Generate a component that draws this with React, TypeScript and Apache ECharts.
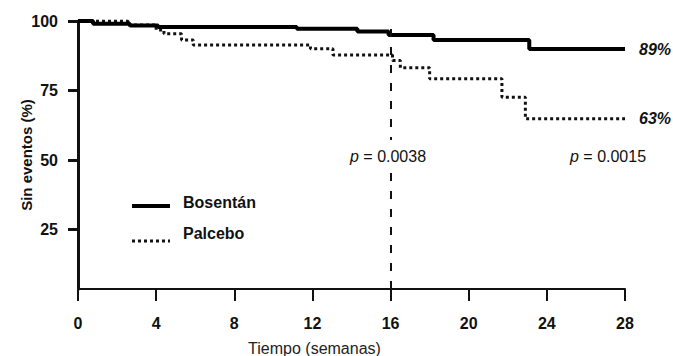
import React, { useEffect, useRef } from "react";
import * as echarts from "echarts";

const FONT = "'Liberation Sans', Arial, sans-serif";

// Kaplan-Meier steps (weeks, % event-free)
const bosentanWeeks = [0, 0.77, 2.66, 4.1, 11.2, 14.3, 15.9, 18.2, 23.1, 28];
const bosentanValues = [100, 99.0, 98.4, 97.8, 97.2, 96.2, 95.0, 93.2, 89.9, 89.9];
const placeboWeeks = [0, 2.56, 4.0, 4.4, 5.3, 5.9, 11.9, 13.05, 16.1, 16.5, 18.0, 21.7, 22.9, 28];
const placeboValues = [100, 98.6, 96.8, 95.4, 93.2, 91.4, 90.0, 87.8, 85.8, 83.2, 79.2, 72.6, 64.8, 64.8];
const seriesNames = ["Bosentán", "Palcebo"];
const endLabels = ["89%", "63%"];
const yTicks = [25, 50, 75, 100];
const pLabels = ["0.0038", "0.0015"];
const markWeek = 16;

export default function App() {
  const ref = useRef<HTMLDivElement>(null);
  useEffect(() => {
    if (!ref.current) return;
    const chart = echarts.init(ref.current, undefined, { renderer: "svg" });
    const zip = (xs: number[], ys: number[]) => xs.map((x, i) => [x, ys[i]]);
    const endLabel = (txt: string) => ({
      show: true,
      formatter: txt,
      distance: 14,
      fontFamily: FONT,
      fontStyle: "italic",
      fontWeight: "bold",
      fontSize: 16,
      color: "#111",
    });
    const pText = (x: number, val: string) => ({
      type: "text", x, y: 156, z: 100,
      style: {
        text: "{i|p} = " + val,
        font: `16px ${FONT}`, fill: "#111", verticalAlign: "middle",
        backgroundColor: "#fff", padding: [8, 2, 8, 2],
        rich: { i: { fontStyle: "italic", fontFamily: FONT, fontSize: 16 } },
      },
    });
    chart.setOption({
      animation: false,
      textStyle: { fontFamily: FONT },
      grid: { left: 78, right: 48, top: 21, bottom: 67, outerBoundsMode: "none", containLabel: false },
      xAxis: {
        type: "value",
        min: 0,
        max: 28,
        interval: 4,
        name: "Tiempo (semanas)",
        nameLocation: "middle",
        nameGap: 51,
        nameMoveOverlap: false,
        nameTextStyle: { fontFamily: FONT, fontSize: 16, color: "#222", padding: [0, 74, 0, 0] },
        splitLine: { show: false },
        axisLine: { lineStyle: { color: "#111", width: 2 } },
        axisTick: { length: 12, lineStyle: { color: "#111", width: 2 } },
        axisLabel: { margin: 26, fontFamily: FONT, fontSize: 16, fontWeight: "bold", color: "#111" },
      },
      yAxis: {
        type: "value",
        min: 3.6,
        max: 100,
        name: "Sin eventos (%)",
        nameLocation: "middle",
        nameGap: 44,
        nameMoveOverlap: false,
        nameTextStyle: { fontFamily: FONT, fontSize: 15, fontWeight: "bold", color: "#111" },
        splitLine: { show: false },
        axisLine: { show: true, lineStyle: { color: "#111", width: 3 } },
        axisTick: { show: true, length: 10, customValues: yTicks, lineStyle: { color: "#111", width: 3 } },
        axisLabel: { margin: 20, customValues: yTicks, fontFamily: FONT, fontSize: 16, fontWeight: "bold", color: "#111" },
      },
      series: [
        {
          name: seriesNames[0],
          type: "line",
          step: "end",
          symbol: "none",
          data: zip(bosentanWeeks, bosentanValues),
          lineStyle: { color: "#000", width: 4 },
          endLabel: endLabel(endLabels[0]),
          z: 3,
          markLine: {
            silent: true,
            symbol: "none",
            label: { show: false },
            lineStyle: { color: "#111", width: 2, type: [8, 10] },
            data: [{ xAxis: markWeek }],
          },
        },
        {
          name: seriesNames[1],
          type: "line",
          step: "end",
          symbol: "none",
          data: zip(placeboWeeks, placeboValues),
          lineStyle: { color: "#111", width: 3, type: [3, 3] },
          endLabel: endLabel(endLabels[1]),
          z: 2,
        },
      ],
      graphic: [
        { type: "line", shape: { x1: 132, y1: 206, x2: 170, y2: 206 }, style: { stroke: "#000", lineWidth: 4 } },
        {
          type: "text", x: 183, y: 202,
          style: { text: seriesNames[0], font: `bold 16px ${FONT}`, fill: "#111", verticalAlign: "middle" },
        },
        { type: "line", shape: { x1: 132, y1: 241, x2: 170, y2: 241 }, style: { stroke: "#111", lineWidth: 3, lineDash: [3, 3] } },
        {
          type: "text", x: 183, y: 233,
          style: { text: seriesNames[1], font: `bold 16px ${FONT}`, fill: "#111", verticalAlign: "middle" },
        },
        pText(348, pLabels[0]),
        pText(568, pLabels[1]),
      ],
    });
    return () => chart.dispose();
  }, []);
  return <div ref={ref} style={{ width: 673, height: 356, position: "absolute", left: 0, top: 0, background: "#fff" }} />;
}
